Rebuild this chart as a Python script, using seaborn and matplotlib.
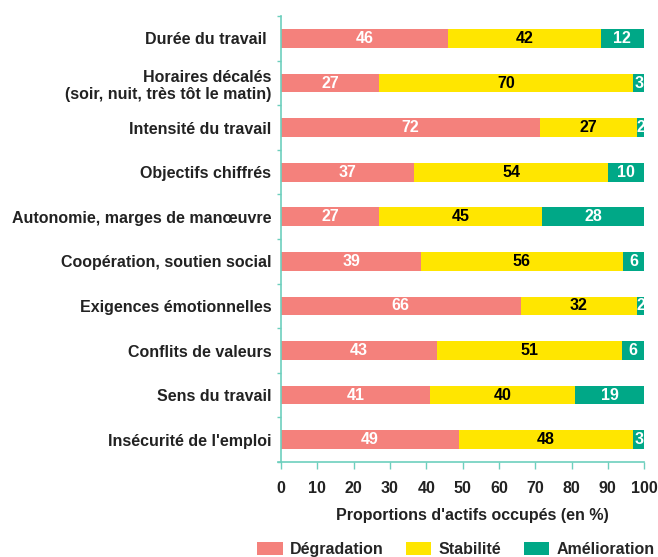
import numpy as np
import matplotlib.pyplot as plt
import seaborn as sns
from matplotlib.patches import Patch
from matplotlib.ticker import MultipleLocator

# Evolution des conditions de travail (en % des actifs occupés)
categories = [
    "Durée du travail ",
    "Horaires décalés\n(soir, nuit, très tôt le matin)",
    "Intensité du travail",
    "Objectifs chiffrés",
    "Autonomie, marges de manœuvre",
    "Coopération, soutien social",
    "Exigences émotionnelles",
    "Conflits de valeurs",
    "Sens du travail",
    "Insécurité de l'emploi",
]
degradation = [46, 27, 72, 37, 27, 39, 66, 43, 41, 49]
stabilite = [42, 70, 27, 54, 45, 56, 32, 51, 40, 48]
amelioration = [12, 3, 2, 10, 28, 6, 2, 6, 19, 3]

series_names = ["Dégradation", "Stabilité", "Amélioration"]
colors = ["#f4817c", "#ffe600", "#00a887"]
text_colors = ["white", "black", "white"]
spine_color = "#6dcfbd"
fs = 11.5

sns.set_style("white")
plt.rcParams["font.family"] = ["Liberation Sans", "DejaVu Sans"]
plt.rcParams["font.weight"] = "bold"

vals = np.array([degradation, stabilite, amelioration], dtype=float)
# rounded values can add up to 101: rescale bar lengths to 100
shares = vals / vals.sum(axis=0) * 100
cum = np.cumsum(shares, axis=0)

fig = plt.figure(figsize=(6.58, 5.57), dpi=100)
ax = fig.add_axes([0.427, 0.1706, 0.552, 0.8004])

# stacked bars drawn from the total down to the first segment
for i in [2, 1, 0]:
    sns.barplot(x=cum[i], y=categories, color=colors[i], width=0.42,
                saturation=1, errorbar=None, orient="h", ax=ax, zorder=2,
                linewidth=0)

for i in range(3):
    starts = cum[i] - shares[i]
    for j, v in enumerate(vals[i]):
        ax.text(starts[j] + shares[i][j] / 2, j, f"{int(v)}", ha="center",
                va="center", color=text_colors[i], fontsize=fs,
                fontweight="bold", zorder=3)

ax.set_xlim(0, 100)
ax.set_ylim(len(categories) - 0.5, -0.5)
ax.xaxis.set_major_locator(MultipleLocator(10))
ax.yaxis.set_minor_locator(MultipleLocator(1, offset=0.5))
ax.tick_params(axis="y", which="major", length=0, pad=7, labelsize=fs)
ax.tick_params(axis="y", which="minor", length=3, color=spine_color,
               width=1, left=True)
ax.tick_params(axis="x", length=5, color=spine_color, width=1, bottom=True,
               labelsize=fs, pad=9)
for lab in ax.get_xticklabels() + ax.get_yticklabels():
    lab.set_fontweight("bold")
    lab.set_color("#222222")

ax.set_xlabel("Proportions d'actifs occupés (en %)", fontsize=fs,
              fontweight="bold", color="#222222")
ax.xaxis.set_label_coords(0.526, -0.104)
ax.set_ylabel("")

sns.despine(ax=ax, top=True, right=True)
ax.spines["left"].set_color(spine_color)
ax.spines["bottom"].set_color(spine_color)
ax.spines["left"].set_linewidth(1.2)
ax.spines["bottom"].set_linewidth(1.2)
ax.spines["bottom"].set_bounds(-0.8, 100)

handles = [Patch(facecolor=c, edgecolor="none", label=n)
           for c, n in zip(colors, series_names)]
fig.legend(handles=handles, loc="lower left",
           bbox_to_anchor=(257 / 658, 0.0), borderaxespad=0.0, borderpad=0,
           ncol=3, frameon=False, handlelength=1.6, handleheight=0.8,
           columnspacing=1.4, handletextpad=0.45,
           prop={"weight": "bold", "size": fs})

fig.savefig("out.png", dpi=100)
